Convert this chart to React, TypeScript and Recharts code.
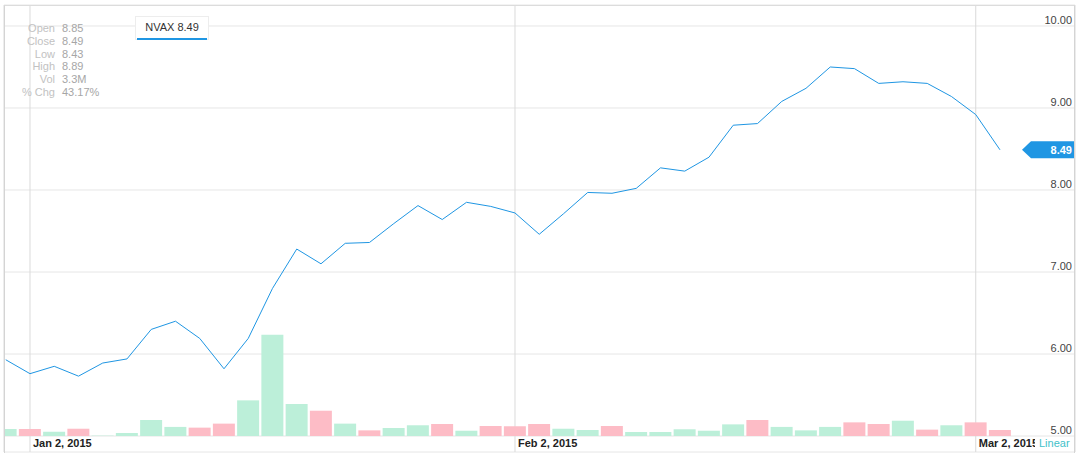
import React from "react";
import {
  ComposedChart,
  Bar,
  Line,
  XAxis,
  YAxis,
  CartesianGrid,
  ReferenceLine,
  Cell,
} from "recharts";

const FONT = "'Liberation Sans', Arial, sans-serif";

// trading days shown, Dec 31 2014 .. Mar 3 2015
const dates = [
  "Dec 31, 2014",
  "Jan 2, 2015", "Jan 5, 2015", "Jan 6, 2015", "Jan 7, 2015", "Jan 8, 2015",
  "Jan 9, 2015", "Jan 12, 2015", "Jan 13, 2015", "Jan 14, 2015", "Jan 15, 2015",
  "Jan 16, 2015", "Jan 20, 2015", "Jan 21, 2015", "Jan 22, 2015", "Jan 23, 2015",
  "Jan 26, 2015", "Jan 27, 2015", "Jan 28, 2015", "Jan 29, 2015", "Jan 30, 2015",
  "Feb 2, 2015", "Feb 3, 2015", "Feb 4, 2015", "Feb 5, 2015", "Feb 6, 2015",
  "Feb 9, 2015", "Feb 10, 2015", "Feb 11, 2015", "Feb 12, 2015", "Feb 13, 2015",
  "Feb 17, 2015", "Feb 18, 2015", "Feb 19, 2015", "Feb 20, 2015", "Feb 23, 2015",
  "Feb 24, 2015", "Feb 25, 2015", "Feb 26, 2015", "Feb 27, 2015",
  "Mar 2, 2015", "Mar 3, 2015",
];

const closes = [
  5.93, 5.76, 5.85, 5.73, 5.89, 5.94, 6.3, 6.4, 6.19, 5.82,
  6.19, 6.8, 7.28, 7.1, 7.35, 7.36, 7.59, 7.81, 7.64, 7.85,
  7.8, 7.72, 7.46, 7.71, 7.97, 7.96, 8.02, 8.27, 8.23, 8.4,
  8.79, 8.81, 9.08, 9.24, 9.5, 9.48, 9.3, 9.32, 9.3, 9.14,
  8.92, 8.49,
];

// volume in millions
const volumes = [
  3.9, 3.9, 2.4, 4.0, 0.2, 1.7, 8.8, 5.0, 4.6, 6.8,
  19.6, 55.7, 17.6, 13.9, 6.8, 3.1, 4.4, 5.9, 6.6, 2.9,
  5.5, 5.3, 6.6, 4.0, 3.3, 5.5, 2.2, 2.2, 3.7, 2.9,
  6.4, 8.8, 5.0, 3.1, 5.0, 7.5, 6.6, 8.4, 3.5, 5.9,
  7.5, 3.3,
];

// 1 = up day (green volume bar), 0 = down day (red)
const upDays = [
  1, 0, 1, 0, 1, 1, 1, 1, 0, 0,
  1, 1, 1, 0, 1, 0, 1, 1, 0, 1,
  0, 0, 0, 1, 1, 0, 1, 1, 1, 1,
  1, 0, 1, 1, 1, 0, 0, 1, 0, 1,
  0, 0,
];

const tickDates = ["Jan 2, 2015", "Feb 2, 2015", "Mar 2, 2015"];
const priceTicks = [5, 6, 7, 8, 9, 10];

const symbol = "NVAX";
const quoteLabels = ["Open", "Close", "Low", "High", "Vol", "% Chg"];
const quoteValues = ["8.85", "8.49", "8.43", "8.89", "3.3M", "43.17%"];

const rows = dates.map((d, i) => ({
  i,
  date: d,
  close: closes[i],
  vol: volumes[i],
  up: upDays[i] === 1,
}));

const lastClose = closes[closes.length - 1];
const xTicks = tickDates.map((d) => dates.indexOf(d));

const BLUE = "#1f96e3";

function DateTick(props: any) {
  const { x, y, payload } = props;
  return (
    <text x={x + 3} y={y - 5} fontSize={11} fontWeight="bold" fill="#222" fontFamily={FONT}>
      {dates[payload.value]}
    </text>
  );
}

function PriceTick(props: any) {
  const { x, y, payload } = props;
  return (
    <text x={x - 3} y={y - 2} fontSize={11} fill="#444" textAnchor="end" fontFamily={FONT}>
      {Number(payload.value).toFixed(2)}
    </text>
  );
}

function Badge(props: any) {
  const vb = props.viewBox || {};
  const right = vb.x + vb.width;
  const cy = vb.y;
  const pts = [
    [right - 53, cy],
    [right - 44, cy - 8.5],
    [right, cy - 8.5],
    [right, cy + 8.5],
    [right - 44, cy + 8.5],
  ]
    .map((p) => p.join(","))
    .join(" ");
  return (
    <g>
      <polygon points={pts} fill={BLUE} />
      <text x={right - 3} y={cy + 4} fontSize={11} fontWeight="bold" fill="#fff" textAnchor="end" fontFamily={FONT}>
        {lastClose.toFixed(2)}
      </text>
    </g>
  );
}

export default function App() {
  return (
    <div
      style={{
        position: "absolute",
        left: 0,
        top: 0,
        width: 1083,
        height: 464,
        background: "#fff",
        fontFamily: FONT,
      }}
    >
      <ComposedChart
        width={1083}
        height={464}
        data={rows}
        margin={{ top: 5, right: 0, bottom: 0, left: 4 }}
      >
        <CartesianGrid yAxisId="price" vertical={false} stroke="#e6e6e6" />
        <CartesianGrid yAxisId="price" horizontal={false} stroke="#dadada" />
        <XAxis
          dataKey="i"
          type="number"
          domain={[-0.072, 44.093]}
          allowDataOverflow
          ticks={xTicks}
          height={12}
          tickSize={0}
          tickMargin={0}
          axisLine={false}
          tickLine={false}
          tick={<DateTick />}
          interval={0}
        />
        <YAxis
          yAxisId="price"
          orientation="right"
          type="number"
          domain={[4.805, 10.256]}
          allowDataOverflow
          ticks={priceTicks}
          width={8}
          tickSize={0}
          tickMargin={0}
          axisLine={false}
          tickLine={false}
          tick={<PriceTick />}
          interval={0}
        />
        <YAxis yAxisId="vol" hide type="number" domain={[-8.8, 237]} allowDataOverflow width={0} />
        <Bar yAxisId="vol" dataKey="vol" barSize={22} isAnimationActive={false}>
          {rows.map((r) => (
            <Cell key={r.i} fill={r.up ? "#bcefd9" : "#fdbcc6"} />
          ))}
        </Bar>
        <Line
          yAxisId="price"
          dataKey="close"
          stroke={BLUE}
          strokeWidth={1}
          dot={false}
          activeDot={false}
          isAnimationActive={false}
        />
        <ReferenceLine yAxisId="price" y={lastClose} stroke="none" label={<Badge />} />
      </ComposedChart>

      {/* plot frame */}
      <div
        style={{
          position: "absolute",
          left: 4,
          top: 5,
          width: 1071,
          height: 448,
          boxSizing: "border-box",
          borderTop: "1px solid #dcdcdc",
          borderLeft: "1px solid #d4d4d4",
          borderRight: "1px solid #d4d4d4",
          pointerEvents: "none",
        }}
      />

      {/* quote box */}
      <div style={{ position: "absolute", left: 0, top: 22, fontSize: 11, lineHeight: "12.8px" }}>
        {quoteLabels.map((l, i) => (
          <div key={l} style={{ display: "flex" }}>
            <span style={{ width: 55, textAlign: "right", color: "#c2c2c2" }}>{l}</span>
            <span style={{ marginLeft: 7, color: "#a6a6a6" }}>{quoteValues[i]}</span>
          </div>
        ))}
      </div>

      {/* legend */}
      <div
        style={{
          position: "absolute",
          left: 135,
          top: 16,
          width: 74,
          height: 24,
          boxSizing: "border-box",
          border: "1px solid #ededed",
          background: "#fff",
          fontSize: 11,
          color: "#333",
          textAlign: "center",
          lineHeight: "20px",
        }}
      >
        {symbol} {lastClose.toFixed(2)}
        <div style={{ position: "absolute", left: 1, right: 1, top: 21, height: 2, background: BLUE }} />
      </div>

      {/* scale switch */}
      <div
        style={{
          position: "absolute",
          left: 1035,
          top: 437,
          width: 39,
          height: 13,
          background: "#fff",
          color: "#3fc1c9",
          fontSize: 11,
          lineHeight: "13px",
          paddingLeft: 4,
          boxSizing: "border-box",
        }}
      >
        Linear
      </div>
    </div>
  );
}
